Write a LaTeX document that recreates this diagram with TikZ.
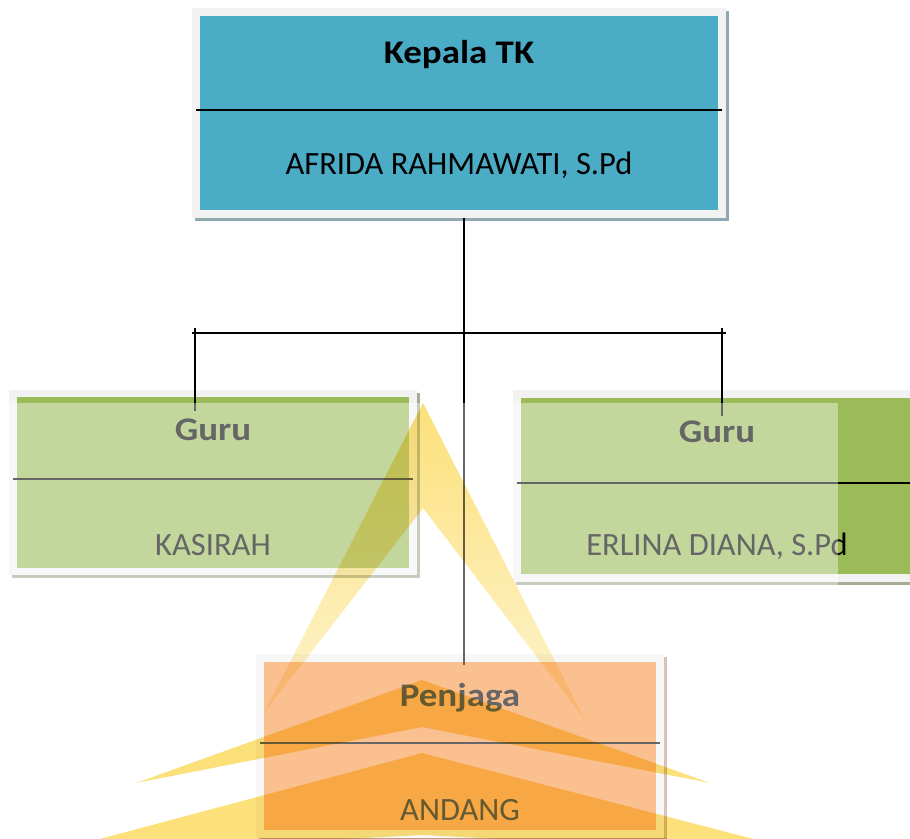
\documentclass[tikz,border=0pt]{standalone}
\usepackage{fontspec}
\setmainfont{Carlito}
\newfontfamily\titlefont{Carlito}[FakeStretch=1.12]
\usepackage{tikz}
\usetikzlibrary{positioning,calc}
\definecolor{KepalaBlue}{HTML}{4BACC6}
\definecolor{GuruGreen}{HTML}{9BBB59}
\definecolor{PenjagaOrange}{HTML}{F79646}
\definecolor{FrameGray}{HTML}{F2F2F2}
\definecolor{ShadowBlue}{HTML}{8FA8B2}
\definecolor{ShadowGreen}{HTML}{A3AC94}
\definecolor{ShadowOrange}{HTML}{C09B84}
\definecolor{WmYellow}{HTML}{FCE07A}
\pgfdeclarehorizontalshading{wmfade}{100bp}{color(0bp)=(white); color(28bp)=(WmYellow); color(72bp)=(WmYellow); color(100bp)=(white)}

\begin{document}
\begin{tikzpicture}[
 x=1pt, y=1pt,
 box/.style={draw=FrameGray, line width=7.5pt, fill=#1, outer sep=0pt, inner sep=0pt, minimum width=400pt},
 shadowed/.style={preaction={draw=#1, fill=#1, transform canvas={xshift=3pt, yshift=-3pt}}},
 ttl/.style={anchor=base, inner sep=0pt, font=\titlefont\fontsize{33}{38}\selectfont\bfseries},
 nm/.style={anchor=base, inner sep=0pt, font=\fontsize{32.5}{37}\selectfont},
 divider/.style={line width=2pt, black},
 conn/.style={line width=2pt, black},
 chev/.style={shading=wmfade},
 leg/.style={top color=WmYellow, bottom color=WmYellow!35!white}
]
\useasboundingbox (0,0) rectangle (910,838);

% boxes
\node[box=KepalaBlue, shadowed=ShadowBlue, minimum width=526pt, minimum height=202pt] (kepala) at (459,725) {};
\node[box=GuruGreen, shadowed=ShadowGreen, minimum height=178pt] (guruA) at (213,355.5) {};
\node[box=GuruGreen, shadowed=ShadowGreen, minimum height=184pt] (guruB) at (717,352) {};
\node[box=PenjagaOrange, shadowed=ShadowOrange, minimum height=176pt] (penjaga) at (460,92) {};

\node[ttl] (kepalaTitle) at ([yshift=49pt]kepala.center) {Kepala TK};
\node[nm] (kepalaName) at ([yshift=-62pt]kepala.center) {AFRIDA RAHMAWATI, S.Pd};
\node[ttl] (guruATitle) at ([yshift=42pt]guruA.center) {Guru};
\node[nm] (guruAName) at ([yshift=-73pt]guruA.center) {KASIRAH};
\node[ttl] (guruBTitle) at ([yshift=43pt]guruB.center) {Guru};
\node[nm] (guruBName) at ([yshift=-70pt]guruB.center) {ERLINA DIANA, S.Pd};
\node[ttl] (penjagaTitle) at ([yshift=39pt]penjaga.center) {Penjaga};
\node[nm] (penjagaName) at ([yshift=-74pt]penjaga.center) {ANDANG};

\foreach \b in {kepala,guruA,guruB,penjaga}
  \draw[divider] ([yshift=3pt]\b.west) -- ([yshift=3pt]\b.east);

% connectors
\coordinate (hub) at (463.5,505);
\draw[conn] ($(kepala.south -| hub)+(0,-4)$) -- (hub);
\draw[conn] ($(kepala.west |- hub)+(-4,0)$) -- ($(kepala.east |- hub)+(4,0)$);
\draw[conn] ($(kepala.west |- hub)+(-1,5)$) -- ($(kepala.west |- guruA.north)+(-1,-18)$);
\draw[conn] ($(kepala.east |- hub)+(0,5)$) -- ($(kepala.east |- guruB.north)+(0,-22)$);
\draw[conn] (hub) -- ($(hub |- penjaga.north)+(0,-7)$);

% pale layer over the lower part
\fill[white, fill opacity=0.4] (0,0) rectangle (838,435);

% watermark
\begin{scope}[blend mode=multiply]
 \shade[leg] (264,125) -- (423,435) -- (585,118) -- (423,330) -- cycle;
 \shade[chev] (136,55) -- (422,158) -- (710,55) -- (422,111) -- cycle;
 \shade[chev] (40,-17) -- (422,85) -- (815,-17) -- (422,3) -- cycle;
\end{scope}
\end{tikzpicture}
\end{document}
